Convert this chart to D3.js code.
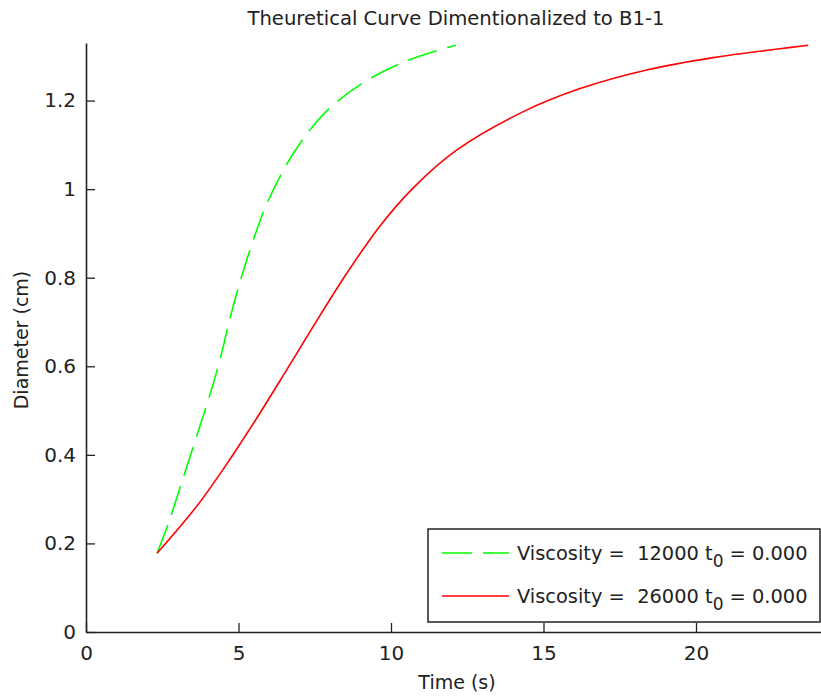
<!DOCTYPE html>
<html>
<head>
<meta charset="utf-8">
<script src="https://cdn.jsdelivr.net/npm/d3@7"></script>
<style>
  body { margin: 0; background: #fff; }
  text { font-family: "DejaVu Sans", "Liberation Sans", sans-serif; fill: #222; white-space: pre; }
</style>
</head>
<body>
<svg id="chart"></svg>
<script>
// values
const timeGreen = [2.33, 2.70, 3.13, 3.57, 4.01, 4.39, 4.72, 5.10, 5.54, 5.98, 6.80, 7.87, 9.20, 10.57, 11.71, 12.13];
const diamGreen = [0.178, 0.245, 0.336, 0.430, 0.524, 0.614, 0.708, 0.802, 0.896, 0.975, 1.081, 1.175, 1.245, 1.291, 1.317, 1.325];
const timeRed = [2.33, 3.63, 4.72, 5.70, 6.58, 7.45, 8.55, 9.64, 10.73, 12.15, 14.34, 16.2, 18.38, 20.56, 22.75, 23.68];
const diamRed = [0.178, 0.284, 0.390, 0.494, 0.592, 0.690, 0.810, 0.917, 1.003, 1.088, 1.175, 1.227, 1.269, 1.297, 1.317, 1.325];
const xTicks = [0, 5, 10, 15, 20];
const yTicks = [0, 0.2, 0.4, 0.6, 0.8, 1, 1.2];
const legendLabels = ["Viscosity =  12000 t", "Viscosity =  26000 t"];

const config = {
  width: 821, height: 696,
  margin: {top: 43, left: 86, bottom: 64},
  tickLen: 9
};

const svg = d3.select("#chart")
    .attr("width", config.width)
    .attr("height", config.height);

// x axis runs past the right edge of the picture (cropped figure)
const x = d3.scaleLinear().domain([0, 25]).range([config.margin.left, config.margin.left + 25 * 30.5]);
const y = d3.scaleLinear().domain([0, 1.33]).range([config.height - config.margin.bottom, config.margin.top]);

const series = [
  {t: timeGreen, d: diamGreen, color: "#00ff00", dash: "30,11"},
  {t: timeRed, d: diamRed, color: "#ff0000", dash: null}
];

const line = d3.line()
    .x(p => x(p[0]))
    .y(p => y(p[1]))
    .curve(d3.curveCatmullRom.alpha(0.5));

series.forEach(s => {
  svg.append("path")
      .datum(s.t.map((v, i) => [v, s.d[i]]))
      .attr("fill", "none")
      .attr("stroke", s.color)
      .attr("stroke-width", 1.6)
      .attr("stroke-dasharray", s.dash)
      .attr("d", line);
});

// axes, MATLAB style: ticks pointing in
const xAxis = d3.axisBottom(x).tickValues(xTicks).tickSize(-config.tickLen).tickSizeOuter(0).tickPadding(14).tickFormat(d3.format("~g"));
const yAxis = d3.axisLeft(y).tickValues(yTicks).tickSize(-config.tickLen).tickSizeOuter(0).tickPadding(10).tickFormat(d3.format("~g"));

const xg = svg.append("g")
    .attr("transform", `translate(0,${y(0)})`)
    .call(xAxis);
const yg = svg.append("g")
    .attr("transform", `translate(${x(0)},0)`)
    .call(yAxis);

[xg, yg].forEach(g => {
  g.select(".domain").attr("stroke", "#222").attr("stroke-width", 1.6);
  g.selectAll(".tick line").attr("stroke", "#222").attr("stroke-width", 1.3);
  g.selectAll(".tick text").style("font-size", "20px").attr("fill", "#222")
      .style("font-family", "'DejaVu Sans', sans-serif");
});

// titles
svg.append("text")
    .attr("x", 456).attr("y", 25)
    .attr("text-anchor", "middle")
    .style("font-size", "19.6px")
    .text("Theuretical Curve Dimentionalized to B1-1");

svg.append("text")
    .attr("x", 457).attr("y", 689)
    .attr("text-anchor", "middle")
    .style("font-size", "19px")
    .text("Time (s)");

svg.append("text")
    .attr("transform", "rotate(-90)")
    .attr("x", -340).attr("y", 28)
    .attr("text-anchor", "middle")
    .style("font-size", "19px")
    .text("Diameter (cm)");

// legend
const legend = svg.append("g").attr("transform", "translate(428,529)");
legend.append("rect")
    .attr("width", 392).attr("height", 93)
    .attr("fill", "#fff")
    .attr("stroke", "#222")
    .attr("stroke-width", 1.5);

series.forEach((s, i) => {
  const ly = 24 + i * 43;
  legend.append("line")
      .attr("x1", 14).attr("x2", 81)
      .attr("y1", ly).attr("y2", ly)
      .attr("stroke", s.color)
      .attr("stroke-width", 1.6)
      .attr("stroke-dasharray", s.dash);
  const t = legend.append("text")
      .attr("x", 89).attr("y", ly + 7)
      .style("font-size", "19.4px");
  t.append("tspan").text(legendLabels[i]);
  t.append("tspan").attr("dy", 7).style("font-size", "17px").text("0");
  t.append("tspan").attr("dy", -7).text(" = 0.000");
});
</script>
</body>
</html>
